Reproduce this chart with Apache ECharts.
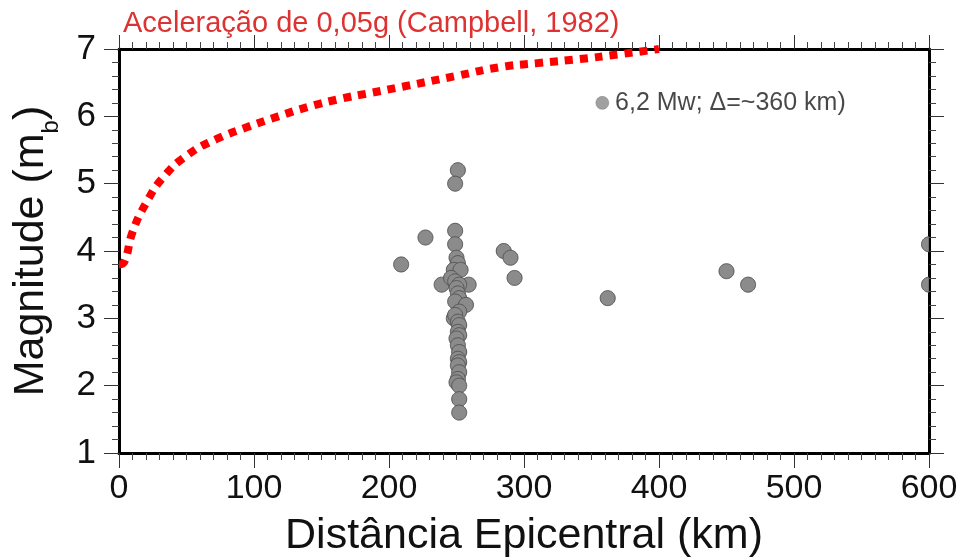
<!DOCTYPE html>
<html>
<head>
<meta charset="utf-8">
<script src="https://cdn.jsdelivr.net/npm/echarts@6/dist/echarts.min.js"></script>
<style>html,body{margin:0;padding:0;background:#fff}#c{width:963px;height:560px}</style>
</head>
<body>
<div id="c"></div>
<script>
// Campbell (1982) 0.05g curve
const curveDist = [0, 4, 10, 20, 33, 51, 72, 95, 118, 140, 164, 187, 210, 250, 282, 310, 341, 370, 400];
const curveMag  = [3.8, 3.84, 4.28, 4.71, 5.10, 5.43, 5.66, 5.84, 6.0, 6.14, 6.26, 6.35, 6.44, 6.6, 6.73, 6.79, 6.85, 6.92, 7.0];

// Events: epicentral distance (km), magnitude (mb)
const eventDist = [209, 227, 239, 259, 285, 290, 293, 362, 450, 466, 600, 600,
  251, 249, 249, 249, 250, 251, 248, 253, 246, 249, 252, 250, 251, 252, 249, 257, 252, 248, 249, 251, 252, 251, 252, 250, 251, 252, 251, 252, 251, 252, 251, 250, 252, 252, 252];
const eventMag  = [3.8, 4.2, 3.5, 3.5, 4.0, 3.9, 3.6, 3.3, 3.7, 3.5, 4.1, 3.5,
  5.2, 5.0, 4.3, 4.1, 3.9, 3.82, 3.72, 3.72, 3.6, 3.55, 3.5, 3.45, 3.37, 3.3, 3.25, 3.2, 3.1, 3.0, 3.05, 2.95, 2.9, 2.8, 2.75, 2.7, 2.6, 2.5, 2.4, 2.35, 2.3, 2.2, 2.1, 2.05, 2.0, 1.8, 1.6];

// Highlighted event
const mainDist = [358];
const mainMag = [6.2];
const mainLabel = '6,2 Mw; \u0394=~360 km)';

const xTicks = [0, 100, 200, 300, 400, 500, 600];
const yTicks = [1, 2, 3, 4, 5, 6, 7];

const FONT = '"Liberation Sans", Arial, Helvetica, sans-serif';

const chart = echarts.init(document.getElementById('c'), null, {renderer: 'canvas'});

const frame = {show: true, onZero: false, lineStyle: {color: '#000', width: 3}};
const tick = (len) => ({show: true, inside: false, length: len, lineStyle: {color: '#333', width: 1}});
const minor = (n) => ({show: true, splitNumber: n, length: 7, lineStyle: {color: '#444', width: 1}});

chart.setOption({
  animation: false,
  backgroundColor: '#fff',
  title: {
    text: 'Aceleração de 0,05g (Campbell, 1982)',
    left: 118, top: 4,
    textStyle: {color: '#dc3232', fontSize: 29, fontWeight: 'normal', fontFamily: FONT}
  },
  grid: {left: 119, right: 34, top: 49, bottom: 107, containLabel: false, outerBoundsMode: 'none'},
  xAxis: [
    {
      type: 'value', position: 'bottom', min: xTicks[0], max: xTicks[xTicks.length - 1], interval: 100,
      axisLine: frame, axisTick: tick(15), minorTick: minor(10), splitLine: {show: false},
      axisLabel: {show: true, margin: 19, color: '#111', fontSize: 34, fontFamily: FONT},
      name: 'Distância Epicentral (km)', nameLocation: 'middle', nameGap: 62,
      nameTextStyle: {color: '#111', fontSize: 43, fontFamily: FONT}
    },
    {
      type: 'value', position: 'top', min: xTicks[0], max: xTicks[xTicks.length - 1], interval: 100,
      axisLine: frame, axisTick: tick(14), minorTick: minor(10), splitLine: {show: false},
      axisLabel: {show: false}
    }
  ],
  yAxis: [
    {
      type: 'value', position: 'left', min: yTicks[0], max: yTicks[yTicks.length - 1], interval: 1,
      axisLine: frame, axisTick: tick(15), minorTick: minor(5), splitLine: {show: false},
      axisLabel: {show: true, margin: 23, color: '#111', fontSize: 35, fontFamily: FONT},
      name: 'Magnitude (m{sub|b})', nameLocation: 'middle', nameGap: 66, nameRotate: 90,
      nameTextStyle: {color: '#111', fontSize: 43, fontFamily: FONT,
        rich: {sub: {fontSize: 24, fontFamily: FONT, color: '#111', verticalAlign: 'bottom', padding: [0, 0, -10, 0]}}}
    },
    {
      type: 'value', position: 'right', min: yTicks[0], max: yTicks[yTicks.length - 1], interval: 1,
      axisLine: frame, axisTick: tick(15), minorTick: minor(5), splitLine: {show: false},
      axisLabel: {show: false}
    }
  ],
  series: [
    {
      type: 'line',
      data: curveDist.map((d, i) => [d, curveMag[i]]),
      smooth: true, symbol: 'none', clip: false,
      lineStyle: {color: '#ff0000', width: 8, type: [8, 7], cap: 'butt'},
      z: 3
    },
    {
      type: 'custom',
      clip: true,
      data: eventDist.map((d, i) => [d, eventMag[i]]),
      encode: {x: 0, y: 1},
      renderItem: function (params, api) {
        const p = api.coord([api.value(0), api.value(1)]);
        const cs = params.coordSys;
        const r = 7.5, n = 48, pts = [];
        for (let k = 0; k < n; k++) {
          const a = 2 * Math.PI * k / n;
          pts.push([p[0] + r * Math.cos(a), p[1] + r * Math.sin(a)]);
        }
        const clipped = echarts.graphic.clipPointsByRect(pts, {x: cs.x, y: cs.y, width: cs.width, height: cs.height});
        return {
          type: 'polygon',
          shape: {points: clipped},
          style: {fill: '#8b8b8b', stroke: '#555', lineWidth: 1}
        };
      },
      z: 2
    },
    {
      type: 'scatter',
      data: mainDist.map((d, i) => [d, mainMag[i]]),
      symbol: 'circle', symbolSize: 13,
      itemStyle: {color: '#888888', borderColor: '#6a6a6a', borderWidth: 0.5},
      label: {show: true, position: 'right', distance: 6, formatter: mainLabel,
        color: '#1a1a1a', fontSize: 25, fontFamily: FONT},
      z: 4
    }
  ]
});
</script>
</body>
</html>
